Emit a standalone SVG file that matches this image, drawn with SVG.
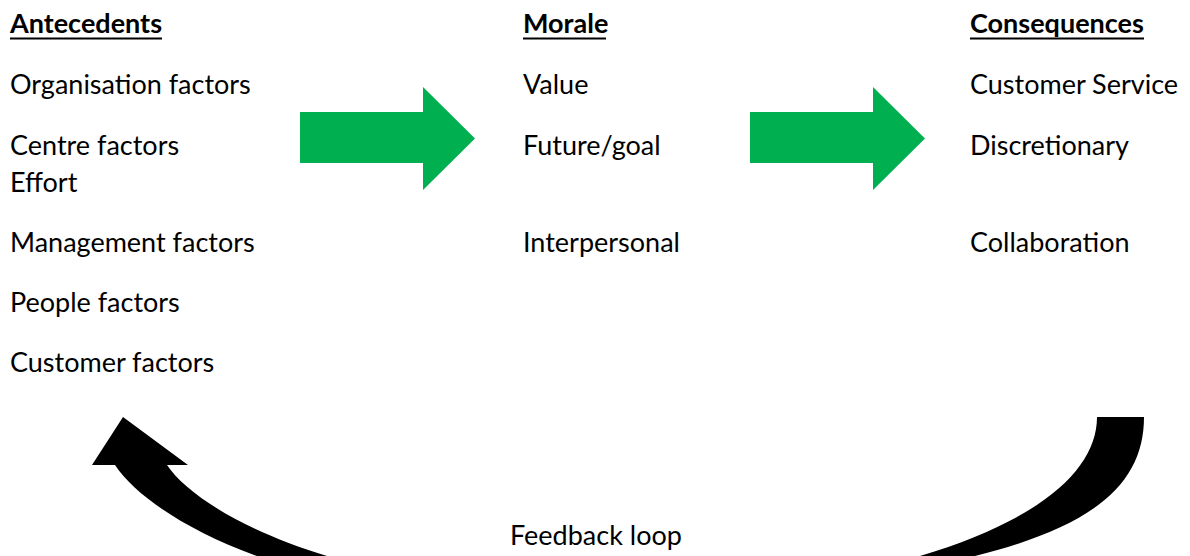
<svg xmlns="http://www.w3.org/2000/svg" width="1190" height="556" viewBox="0 0 1190 556">
<style>
text{font-family:Lato,"Open Sans","Liberation Sans",sans-serif;font-size:27px;fill:#000}
.h{font-weight:bold}
.ul{stroke:#000;stroke-width:2}
.g{fill:#00B050}
.k{fill:#000}
</style>
<rect width="1190" height="556" fill="#fff"/>
<g id="antecedents">
<text class="h" x="10" y="33">Antecedents</text>
<line class="ul" x1="10" y1="38.5" x2="162" y2="38.5"/>
<text x="10" y="94">Organisation factors</text>
<text x="10" y="155">Centre factors</text>
<text x="10" y="192">Effort</text>
<text x="10" y="252">Management factors</text>
<text x="10" y="312">People factors</text>
<text x="10" y="372">Customer factors</text>
</g>
<g id="morale">
<text class="h" x="523" y="33">Morale</text>
<line class="ul" x1="523" y1="38.5" x2="606" y2="38.5"/>
<text x="523" y="94">Value</text>
<text x="523" y="155">Future/goal</text>
<text x="523" y="252">Interpersonal</text>
</g>
<g id="consequences">
<text class="h" x="970" y="33">Consequences</text>
<line class="ul" x1="970" y1="38.5" x2="1144" y2="38.5"/>
<text x="970" y="94">Customer Service</text>
<text x="970" y="155">Discretionary</text>
<text x="970" y="252">Collaboration</text>
</g>
<g id="feedback-label">
<text x="510" y="545">Feedback loop</text>
</g>
<g id="connectors">
<path class="g" d="M300,112 H423 V87 L475,138.5 L423,190 V163 H300 Z"/>
<path class="g" d="M750,112 H873 V87 L925,138.5 L873,190 V163 H750 Z"/>
<path class="k" d="M1097,417 L1144,417 C1144,480 1100,525 975,556 L920,556 C1040,520 1097,470 1097,417 Z"/>
<path class="k" d="M123,417 L188,465 L167,465 C185,492 240,530 327,556 L257,556 C185,530 135,495 115,465 L92,465 Z"/>
</g>
</svg>
